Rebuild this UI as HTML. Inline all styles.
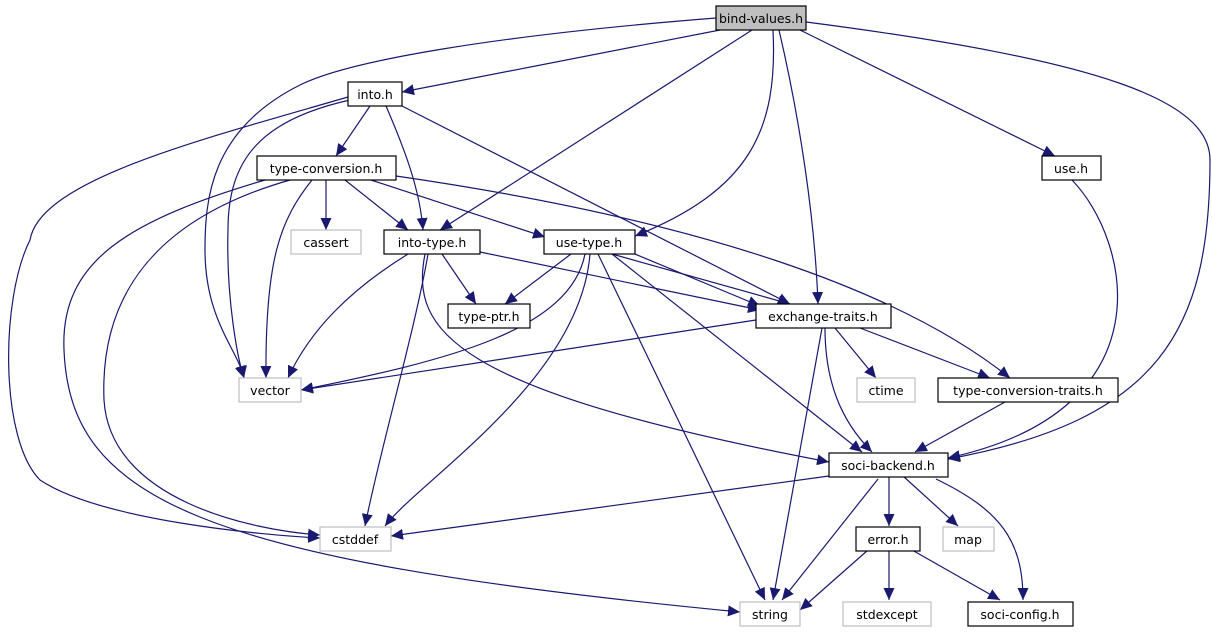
<!DOCTYPE html>
<html><head><meta charset="utf-8"><style>
html,body{margin:0;padding:0;background:#fff;}
svg{display:block;}
text{font-family:"DejaVu Sans","Liberation Sans",sans-serif;font-size:12.5px;fill:#000;text-anchor:middle;}
</style></head><body>
<svg width="1212" height="635" viewBox="0 0 1212 635" xmlns="http://www.w3.org/2000/svg">
<defs>
<marker id="a" markerUnits="userSpaceOnUse" markerWidth="13" markerHeight="11" refX="12" refY="5.5" orient="auto">
<path d="M0,0 L12,5.5 L0,11 Z" fill="#191970"/>
</marker>
</defs>
<g fill="none" stroke="#191970" stroke-width="1.2" marker-end="url(#a)">
<path d="M720,30 L402,92"/>
<path d="M716,18 C 500,35 350,60 300,85 C 210,130 205,200 205,250 C 205,320 238,350 244,378"/>
<path d="M752,30 L440,230"/>
<path d="M773,30 C 778,130 750,190 635,236"/>
<path d="M779,30 C 800,120 815,220 818,304"/>
<path d="M800,30 L1055,156"/>
<path d="M806,22 C 1100,60 1210,100 1210,160 C 1210,330 1160,420 948,459"/>
<path d="M1072,180 C 1130,240 1170,410 948,458"/>
<path d="M370,106 L336,156"/>
<path d="M386,106 C 405,150 420,190 423,230"/>
<path d="M402,106 L790,304"/>
<path d="M348,97 C 200,140 40,180 30,240 C 0,300 0,440 40,480 C 100,520 260,535 320,538"/>
<path d="M350,100 C 260,120 228,160 228,230 C 226,300 238,360 244,378"/>
<path d="M326,180 L326,230"/>
<path d="M345,180 L408,230"/>
<path d="M371,180 L545,237"/>
<path d="M396,176 C 700,220 900,290 1010,378"/>
<path d="M312,180 C 280,220 265,260 266,378"/>
<path d="M290,180 C 150,220 100,300 104,400 C 110,500 250,530 320,535"/>
<path d="M265,180 C 130,220 60,260 64,350 C 70,500 200,560 740,612"/>
<path d="M442,254 L476,304"/>
<path d="M480,252 L760,310"/>
<path d="M408,254 C 350,290 310,330 288,378"/>
<path d="M428,254 C 415,330 380,450 365,526"/>
<path d="M425,254 C 410,330 450,390 829,462"/>
<path d="M571,254 L505,304"/>
<path d="M612,254 L790,304"/>
<path d="M630,252 L760,306"/>
<path d="M585,254 C 570,330 450,360 301,390"/>
<path d="M590,254 C 580,380 420,480 385,526"/>
<path d="M598,254 L765,600"/>
<path d="M612,254 L862,452"/>
<path d="M756,320 L301,390"/>
<path d="M835,328 L876,378"/>
<path d="M860,328 L990,378"/>
<path d="M825,328 C 825,380 840,420 872,452"/>
<path d="M822,328 L773,600"/>
<path d="M1005,402 L915,452"/>
<path d="M829,476 L391,536"/>
<path d="M889,476 L889,526"/>
<path d="M903,476 L958,526"/>
<path d="M936,479 C 1000,510 1023,540 1023,600"/>
<path d="M878,479 L782,600"/>
<path d="M868,550 L800,610"/>
<path d="M889,550 L889,600"/>
<path d="M912,550 L1000,600"/>
</g>
<g stroke-width="1.2">
<rect x="716" y="6" width="90" height="24" fill="#bfbfbf" stroke="#000"/>
<rect x="348" y="82" width="54" height="24" fill="#fff" stroke="#000"/>
<rect x="1042" y="156" width="59" height="24" fill="#fff" stroke="#000"/>
<rect x="257" y="156" width="139" height="24" fill="#fff" stroke="#000"/>
<rect x="291" y="230" width="70" height="24" fill="#fff" stroke="#bfbfbf"/>
<rect x="384" y="230" width="96" height="24" fill="#fff" stroke="#000"/>
<rect x="544" y="230" width="91" height="24" fill="#fff" stroke="#000"/>
<rect x="448" y="304" width="82" height="24" fill="#fff" stroke="#000"/>
<rect x="756" y="304" width="135" height="24" fill="#fff" stroke="#000"/>
<rect x="239" y="378" width="62" height="24" fill="#fff" stroke="#bfbfbf"/>
<rect x="857" y="378" width="58" height="24" fill="#fff" stroke="#bfbfbf"/>
<rect x="938" y="378" width="180" height="24" fill="#fff" stroke="#000"/>
<rect x="829" y="453" width="119" height="24" fill="#fff" stroke="#000"/>
<rect x="320" y="527" width="71" height="24" fill="#fff" stroke="#bfbfbf"/>
<rect x="856" y="527" width="64" height="24" fill="#fff" stroke="#000"/>
<rect x="943" y="527" width="51" height="24" fill="#fff" stroke="#bfbfbf"/>
<rect x="740" y="602" width="60" height="24" fill="#fff" stroke="#bfbfbf"/>
<rect x="843" y="602" width="88" height="24" fill="#fff" stroke="#bfbfbf"/>
<rect x="968" y="602" width="105" height="24" fill="#fff" stroke="#000"/>
</g>
<text x="761" y="23">bind-values.h</text>
<text x="375" y="99">into.h</text>
<text x="1071" y="173">use.h</text>
<text x="326" y="173">type-conversion.h</text>
<text x="326" y="247">cassert</text>
<text x="432" y="247">into-type.h</text>
<text x="589" y="247">use-type.h</text>
<text x="489" y="321">type-ptr.h</text>
<text x="823" y="321">exchange-traits.h</text>
<text x="270" y="395">vector</text>
<text x="886" y="395">ctime</text>
<text x="1028" y="395">type-conversion-traits.h</text>
<text x="888" y="470">soci-backend.h</text>
<text x="355" y="544">cstddef</text>
<text x="888" y="544">error.h</text>
<text x="968" y="544">map</text>
<text x="770" y="619">string</text>
<text x="887" y="619">stdexcept</text>
<text x="1020" y="619">soci-config.h</text>
</svg>
</body></html>
